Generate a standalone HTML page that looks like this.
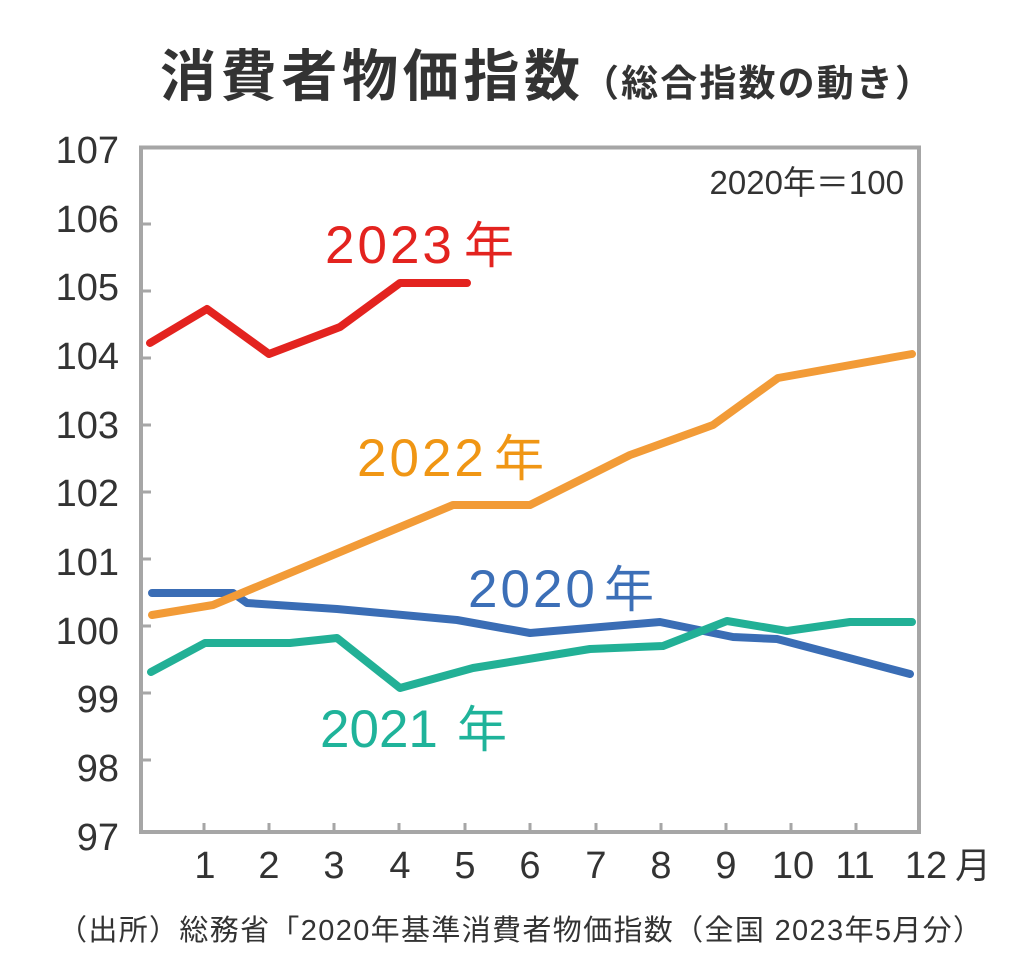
<!DOCTYPE html>
<html>
<head>
<meta charset="utf-8">
<style>
  html, body { margin: 0; padding: 0; background: #ffffff; }
  svg { display: block; }
  .ax { font-family: "Liberation Sans", "Noto Sans CJK JP", sans-serif; fill: #333333; }
  .jp { font-family: "Liberation Sans", "Noto Sans CJK JP", sans-serif; }
</style>
</head>
<body>
<svg width="1016" height="966" viewBox="0 0 1016 966" xmlns="http://www.w3.org/2000/svg">
  <rect x="0" y="0" width="1016" height="966" fill="#ffffff"/>

  <!-- Title -->
  <text class="jp" x="160" y="96" font-size="56" font-weight="700" fill="#333333" textLength="420" lengthAdjust="spacing">消費者物価指数</text>
  <text class="jp" x="582" y="96" font-size="37" font-weight="700" fill="#333333" textLength="350" lengthAdjust="spacing">（総合指数の動き）</text>

  <!-- Frame -->
  <rect x="141" y="147.5" width="778" height="684.5" fill="none" stroke="#a6a6a6" stroke-width="4"/>

  <!-- Y ticks -->
  <g stroke="#a6a6a6" stroke-width="3">
    <line x1="141" y1="224" x2="151" y2="224"/>
    <line x1="141" y1="291" x2="151" y2="291"/>
    <line x1="141" y1="358" x2="151" y2="358"/>
    <line x1="141" y1="425" x2="151" y2="425"/>
    <line x1="141" y1="492" x2="151" y2="492"/>
    <line x1="141" y1="559" x2="151" y2="559"/>
    <line x1="141" y1="626" x2="151" y2="626"/>
    <line x1="141" y1="693" x2="151" y2="693"/>
    <line x1="141" y1="760" x2="151" y2="760"/>
  </g>
  <!-- X ticks -->
  <g stroke="#a6a6a6" stroke-width="3">
    <line x1="204" y1="832" x2="204" y2="823"/>
    <line x1="269" y1="832" x2="269" y2="823"/>
    <line x1="334" y1="832" x2="334" y2="823"/>
    <line x1="399" y1="832" x2="399" y2="823"/>
    <line x1="465" y1="832" x2="465" y2="823"/>
    <line x1="530" y1="832" x2="530" y2="823"/>
    <line x1="596" y1="832" x2="596" y2="823"/>
    <line x1="661" y1="832" x2="661" y2="823"/>
    <line x1="726" y1="832" x2="726" y2="823"/>
    <line x1="791" y1="832" x2="791" y2="823"/>
    <line x1="856" y1="832" x2="856" y2="823"/>
  </g>

  <!-- Y labels -->
  <g class="ax" font-size="38" text-anchor="end">
    <text x="119" y="163">107</text>
    <text x="119" y="232">106</text>
    <text x="119" y="300">105</text>
    <text x="119" y="369">104</text>
    <text x="119" y="438">103</text>
    <text x="119" y="506">102</text>
    <text x="119" y="575">101</text>
    <text x="119" y="644">100</text>
    <text x="119" y="712">99</text>
    <text x="119" y="781">98</text>
    <text x="119" y="850">97</text>
  </g>

  <!-- X labels -->
  <g class="ax" font-size="38" text-anchor="middle">
    <text x="205" y="878">1</text>
    <text x="269" y="878">2</text>
    <text x="334" y="878">3</text>
    <text x="400" y="878">4</text>
    <text x="465" y="878">5</text>
    <text x="530" y="878">6</text>
    <text x="596" y="878">7</text>
    <text x="661" y="878">8</text>
    <text x="726" y="878">9</text>
    <text x="793" y="878">10</text>
    <text x="855" y="878">11</text>
    <text x="926" y="878">12</text>
  </g>
  <text class="jp" x="955" y="878" font-size="36" fill="#333333">月</text>

  <!-- Scale note -->
  <text class="ax" x="904" y="194" font-size="33" text-anchor="end">2020年＝100</text>

  <!-- Series -->
  <g fill="none" stroke-width="8" stroke-linecap="round" stroke-linejoin="round">
    <polyline stroke="#3a6db5" points="152,593 233,593 247,603 337,609 457,620 530,633 660,622 733,637 777,639 910,674"/>
    <polyline stroke="#22b096" points="151,672 205,643 290,643 337,638 400,688 473,668 590,649 663,646 727,621 787,631 850,622 912,622"/>
    <polyline stroke="#f29b37" points="152,615 213,605 453,505 530,505 630,455 713,425 778,378 912,354"/>
    <polyline stroke="#e3231f" points="150,343 207,309 269,354 340,327 400,283 467,283"/>
  </g>

  <!-- Series labels -->
  <text class="jp" x="325" y="263" font-size="53" fill="#e3231f" letter-spacing="3">2023</text>
  <text class="jp" x="464" y="263" font-size="50" fill="#e3231f">年</text>

  <text class="jp" x="357" y="476" font-size="53" fill="#f09614" letter-spacing="3">2022</text>
  <text class="jp" x="494" y="476" font-size="50" fill="#f09614">年</text>

  <text class="jp" x="468" y="607" font-size="53" fill="#3c6fb7" letter-spacing="3">2020</text>
  <text class="jp" x="604" y="607" font-size="50" fill="#3c6fb7">年</text>

  <text class="jp" x="320" y="747" font-size="53" fill="#1fb39a">2021</text>
  <text class="jp" x="457" y="747" font-size="50" fill="#1fb39a">年</text>

  <!-- Footer -->
  <text class="jp" x="58" y="940" font-size="29" fill="#333333" textLength="924" lengthAdjust="spacing">（出所）総務省「2020年基準消費者物価指数（全国 2023年5月分）</text>
</svg>
</body>
</html>
